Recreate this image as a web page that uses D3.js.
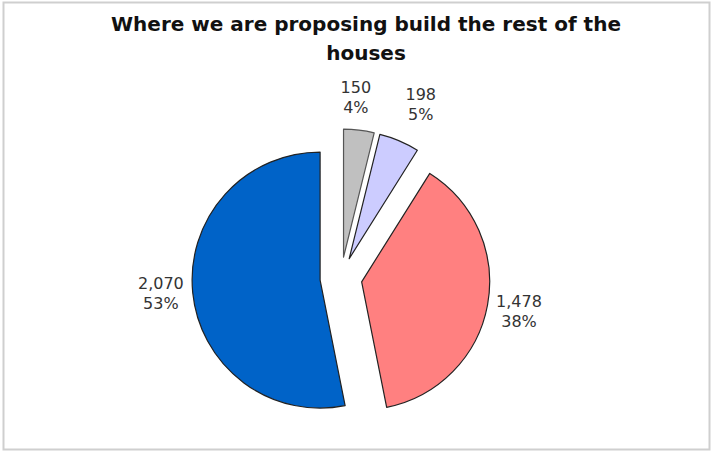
<!DOCTYPE html>
<html>
<head>
<meta charset="utf-8">
<script src="https://cdn.jsdelivr.net/npm/d3@7"></script>
<style>
  body { margin: 0; background: #fff; }
  svg { display: block; }
</style>
</head>
<body>
<svg></svg>
<script>
const width = 713;
const height = 454;

// data
const categories = ["A", "B", "C", "D"];
const values = [150, 198, 1478, 2070];
const percents = ["4%", "5%", "38%", "53%"];
const colors = ["#c0c0c0", "#ccccff", "#ff8080", "#0063c8"];
const titleLines = ["Where we are proposing build the rest of the", "houses"];

const cx = 341, cy = 278;
const radius = 128;
const explode = 21;
const labelR = 181;
// small hand nudges of the labels, like the original layout
const labelNudge = [[-7, -3], [9, -9], [0, -1], [0, -4]];

let svg = d3.select("svg")
    .attr("width", width)
    .attr("height", height);

// frame
svg.append("rect")
    .attr("x", 3.5).attr("y", 2.5)
    .attr("width", 706).attr("height", 447)
    .attr("fill", "#fff")
    .attr("stroke", "#cfcfcf")
    .attr("stroke-width", 2);

// title
svg.append("text")
    .attr("x", 366)
    .attr("y", 31)
    .attr("text-anchor", "middle")
    .style("font-family", "DejaVu Sans")
    .style("font-weight", "bold")
    .style("font-size", "20px")
    .style("fill", "#111")
    .selectAll("tspan")
    .data(titleLines)
    .enter()
    .append("tspan")
    .attr("x", 366)
    .attr("dy", (d, i) => i == 0 ? 0 : 29)
    .text(d => d);

const data = categories.map((c, i) => ({ cat: c, value: values[i], pct: percents[i], color: colors[i] }));

const pie = d3.pie()
    .sort(null)
    .value(d => d.value);

const arc = d3.arc()
    .innerRadius(0)
    .outerRadius(radius);

const arcs = pie(data);

const g = svg.append("g")
    .attr("transform", `translate(${cx}, ${cy})`);

function dir(d) {
  const a = (d.startAngle + d.endAngle) / 2;
  return [Math.sin(a), -Math.cos(a)];
}

g.selectAll(".slice")
    .data(arcs)
    .enter()
    .append("path")
    .attr("class", "slice")
    .attr("d", arc)
    .attr("transform", d => {
      const [x, y] = dir(d);
      return `translate(${x * explode}, ${y * explode})`;
    })
    .attr("fill", d => d.data.color)
    .attr("stroke", d => d.index == 0 ? "#555" : "#222")
    .attr("stroke-width", 1.2)
    .attr("stroke-linejoin", "round");

// labels: value and percent
const fmt = d3.format(",");
const labels = g.selectAll(".lbl")
    .data(arcs)
    .enter()
    .append("text")
    .attr("class", "lbl")
    .attr("text-anchor", "middle")
    .style("font-family", "DejaVu Sans")
    .style("font-size", "16px")
    .style("fill", "#333")
    .attr("transform", d => {
      const [x, y] = dir(d);
      const [nx, ny] = labelNudge[d.index];
      return `translate(${x * labelR + nx}, ${y * labelR + ny})`;
    });

labels.append("tspan")
    .attr("x", 0)
    .attr("dy", "-0.15em")
    .text(d => fmt(d.data.value));

labels.append("tspan")
    .attr("x", 0)
    .attr("dy", "1.25em")
    .text(d => d.data.pct);
</script>
</body>
</html>
